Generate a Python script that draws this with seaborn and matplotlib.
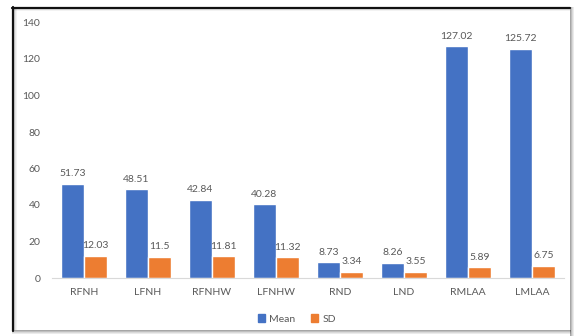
import matplotlib
matplotlib.use("Agg")
import matplotlib.pyplot as plt
import seaborn as sns
import pandas as pd
from matplotlib.patches import Rectangle
from matplotlib.lines import Line2D

# data
categories = ["RFNH", "LFNH", "RFNHW", "LFNHW", "RND", "LND", "RMLAA", "LMLAA"]
mean_vals = [51.73, 48.51, 42.84, 40.28, 8.73, 8.26, 127.02, 125.72]
sd_vals = [12.03, 11.5, 11.81, 11.32, 3.34, 3.55, 5.89, 6.75]
series = ["Mean", "SD"]
colors = ["#4472C4", "#ED7D31"]

df = pd.DataFrame({
    "cat": categories * 2,
    "value": mean_vals + sd_vals,
    "series": ["Mean"] * len(categories) + ["SD"] * len(categories),
})

sns.set_style("white")
plt.rcParams["font.family"] = ["Lato", "DejaVu Sans"]
text_col = "#595959"

fig = plt.figure(figsize=(5.76, 3.36), dpi=100)
ax = fig.add_axes([52 / 576, 1 - 278 / 336, 512 / 576, 255.5 / 336])

sns.barplot(data=df, x="cat", y="value", hue="series", hue_order=series,
            palette=colors, width=0.72, ax=ax, legend=False, saturation=1)

for cont in ax.containers:
    ax.bar_label(cont, fmt="%g", padding=4, fontsize=7.5, color=text_col)

ax.set_ylim(0, 140)
ax.set_xlim(-0.5, 7.5)
ax.set_yticks(range(0, 141, 20))
ax.set_xlabel("")
ax.set_ylabel("")
ax.tick_params(axis="both", length=0, labelsize=7.5, colors=text_col)
ax.tick_params(axis="y", pad=8.5)
ax.tick_params(axis="x", pad=7)
for s in ["top", "right", "left"]:
    ax.spines[s].set_visible(False)
ax.spines["bottom"].set_color("#d9d9d9")
ax.spines["bottom"].set_linewidth(0.8)

handles = [Rectangle((0, 0), 1, 1, color=c) for c in colors]
ax.legend(handles, series, loc="center", bbox_to_anchor=(297 / 576, 1 - 319 / 336),
          bbox_transform=fig.transFigure, ncol=2, frameon=False, fontsize=7.5,
          handlelength=0.7, handleheight=0.7, handletextpad=0.4, columnspacing=1.5,
          labelcolor=text_col)

# picture frame with shadow
W, H = 576, 336
for i, a in enumerate([0.35, 0.25, 0.15, 0.08]):
    fig.patches.append(Rectangle(((570 + i) / W, 0), 1 / W, (H - 7) / H,
                                 transform=fig.transFigure, color="black", alpha=a, lw=0))
    fig.patches.append(Rectangle((12 / W, (5 - i) / H), (559) / W, 1 / H,
                                 transform=fig.transFigure, color="black", alpha=a, lw=0))
for i, a in enumerate([0.18, 0.1, 0.05]):
    fig.patches.append(Rectangle(((14 + i) / W, 6 / H), 1 / W, (H - 14) / H,
                                 transform=fig.transFigure, color="black", alpha=a, lw=0))
    fig.patches.append(Rectangle((14 / W, (H - 9 - i) / H), 556 / W, 1 / H,
                                 transform=fig.transFigure, color="black", alpha=a, lw=0))
fig.lines.append(Line2D([12.5 / W, 12.5 / W], [5 / H, (H - 7) / H],
                        transform=fig.transFigure, color="#111111", lw=1.6))
fig.lines.append(Line2D([12 / W, 570 / W], [(H - 7.5) / H, (H - 7.5) / H],
                        transform=fig.transFigure, color="#111111", lw=1.6))

fig.savefig("out.png", dpi=100)
